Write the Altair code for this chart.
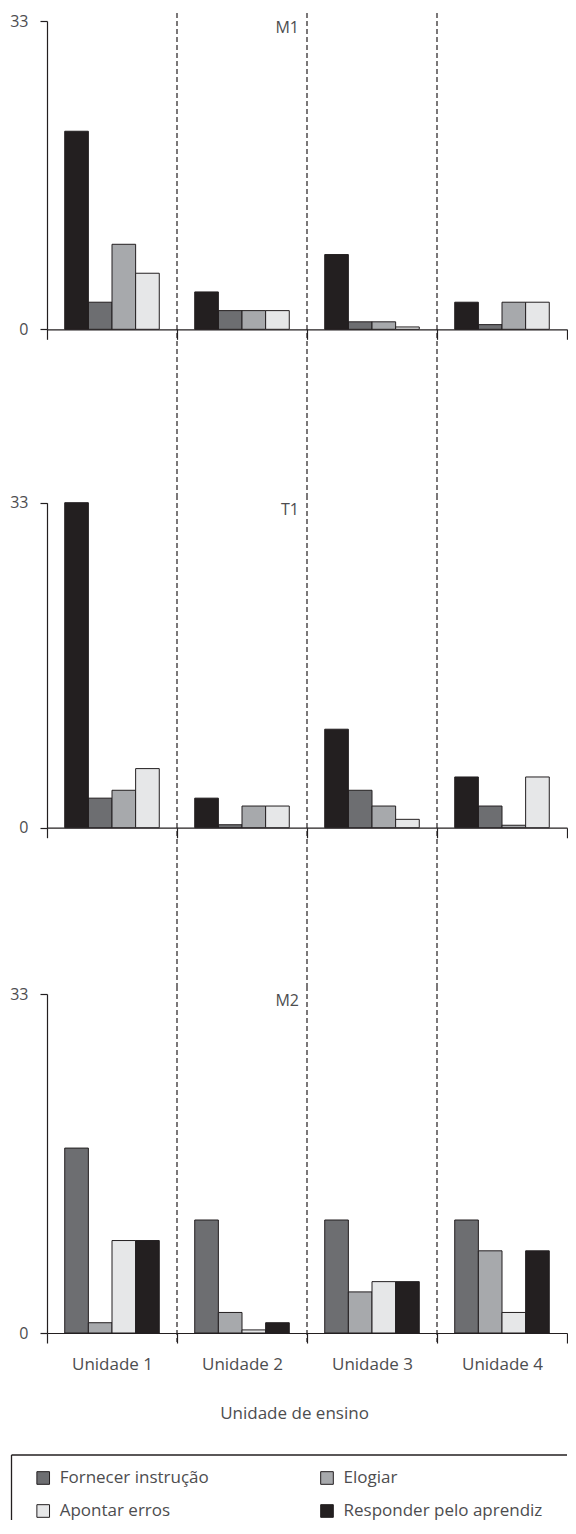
import altair as alt
import pandas as pd

units = ["Unidade 1", "Unidade 2", "Unidade 3", "Unidade 4"]
categories = ["Fornecer instrução", "Elogiar", "Apontar erros", "Responder pelo aprendiz"]
cat_colors = ["#6d6e71", "#a7a9ac", "#e6e7e8", "#231f20"]

# M1 values per unit
m1_fornecer = [2.9, 2, 0.8, 0.5]
m1_elogiar = [9.1, 2, 0.8, 2.9]
m1_apontar = [6, 2, 0.25, 2.9]
m1_responder = [21.2, 4, 8, 2.9]

# T1 values per unit
t1_fornecer = [3, 0.3, 3.8, 2.2]
t1_elogiar = [3.8, 2.2, 2.2, 0.25]
t1_apontar = [6, 2.2, 0.85, 5.15]
t1_responder = [33, 3, 10, 5.15]

# M2 values per unit
m2_fornecer = [18, 11, 11, 11]
m2_elogiar = [1, 2, 4, 8]
m2_apontar = [9, 0.3, 5, 2]
m2_responder = [9, 1, 5, 8]

order_m1 = ["Responder pelo aprendiz", "Fornecer instrução", "Elogiar", "Apontar erros"]
order_m2 = ["Fornecer instrução", "Elogiar", "Apontar erros", "Responder pelo aprendiz"]
y_ticks = [0, 33]

series = {
    "M1": [m1_fornecer, m1_elogiar, m1_apontar, m1_responder],
    "T1": [t1_fornecer, t1_elogiar, t1_apontar, t1_responder],
    "M2": [m2_fornecer, m2_elogiar, m2_apontar, m2_responder],
}

rows = []
for pname, lists in series.items():
    for cat, vals in zip(categories, lists):
        for u, v in zip(units, vals):
            rows.append({"panel": pname, "unit": u, "category": cat, "value": v})
df = pd.DataFrame(rows)

TEXT = "#4d4d4f"
INK = "#231f20"
W = 520

slots = {
    "M1": dict(h=482, top=8, zero=316.3, rule_end=482, labels=False, order=order_m1),
    "T1": dict(h=491, top=7.7, zero=332.7, rule_end=491, labels=False, order=order_m1),
    "M2": dict(h=469, top=8, zero=347, rule_end=356, labels=True, order=order_m2),
}
LEG_H = 65


def x_enc(cfg, band_pos=None):
    axis_kw = dict(tickBand="extent", tickSize=10, tickColor=INK, domainColor=INK,
                   domainWidth=1.2, tickWidth=1.2, offset=cfg["zero"] - cfg["h"],
                   labelAngle=0, grid=False)
    if cfg["labels"]:
        axis_kw.update(title="Unidade de ensino", labels=True, labelFontSize=17,
                       labelColor=TEXT, labelPadding=13, titleFontSize=17,
                       titleColor=TEXT, titleFontWeight="normal", titleX=247,
                       titleY=72, titleBaseline="top", titleAlign="center")
    else:
        axis_kw.update(title=None, labels=False)
    kw = dict(sort=units, scale=alt.Scale(domain=units, paddingInner=0, paddingOuter=0),
              axis=alt.Axis(**axis_kw))
    if band_pos is not None:
        kw["bandPosition"] = band_pos
    return alt.X("unit:N", **kw)


def y_enc(cfg):
    return alt.Y("value:Q",
                 scale=alt.Scale(domain=[0, 33], range=[cfg["zero"], cfg["top"]], nice=False),
                 axis=alt.Axis(values=y_ticks, title=None, tickSize=7, labelPadding=12,
                               labelFontSize=16, labelColor=TEXT, domainColor=INK,
                               tickColor=INK, grid=False, domainWidth=1.2, tickWidth=1.2))


def panel(name):
    cfg = slots[name]
    d = df[df.panel == name]
    rules = alt.Chart(pd.DataFrame({"unit": units[1:]})).mark_rule(
        color=INK, strokeWidth=1.2, strokeDash=[5, 3]
    ).encode(x=x_enc(cfg, 0), y=alt.value(0), y2=alt.value(cfg["rule_end"]))
    bars = alt.Chart(d).mark_bar(stroke=INK, strokeWidth=1).encode(
        x=x_enc(cfg),
        xOffset=alt.XOffset("category:N", sort=cfg["order"],
                            scale=alt.Scale(domain=cfg["order"], paddingInner=0, paddingOuter=0.75)),
        y=y_enc(cfg),
        fill=alt.Fill("category:N", scale=alt.Scale(domain=categories, range=cat_colors), legend=None),
    )
    label = alt.Chart(pd.DataFrame({"unit": ["Unidade 3"], "label": [name], "value": [33]})).mark_text(
        align="right", baseline="alphabetic", dx=-8, dy=12.3, fontSize=16, color=TEXT
    ).encode(x=x_enc(cfg, 0), y=y_enc(cfg), text="label:N")
    return alt.layer(rules, bars, label).properties(width=W, height=cfg["h"])


leg_df = pd.DataFrame({"category": categories, "col": [0, 1, 0, 1], "row": [0, 0, 1, 1]})
lx = alt.X("col:Q", scale=alt.Scale(domain=[0, 1], range=[-3.8, 280]), axis=None)
ly = alt.Y("row:Q", scale=alt.Scale(domain=[0, 1], range=[23, 56]), axis=None)
frame = alt.Chart(pd.DataFrame({"k": [0]}))
top_line = frame.mark_rule(color=INK, strokeWidth=1.3).encode(
    x=alt.value(-35.5), x2=alt.value(W), y=alt.value(0))
left_line = frame.mark_rule(color=INK, strokeWidth=1.3).encode(
    x=alt.value(-35.5), y=alt.value(0), y2=alt.value(LEG_H))
squares = alt.Chart(leg_df).mark_square(size=160, stroke=INK, strokeWidth=1, opacity=1).encode(
    x=lx, y=ly,
    fill=alt.Fill("category:N", scale=alt.Scale(domain=categories, range=cat_colors), legend=None),
)
texts = alt.Chart(leg_df).mark_text(align="left", baseline="middle", dx=16.5, fontSize=17, color=TEXT).encode(
    x=lx, y=ly, text="category:N"
)
legend = alt.layer(top_line, left_line, squares, texts).properties(width=W, height=LEG_H)

chart = alt.vconcat(panel("M1"), panel("T1"), panel("M2"), legend, spacing=0, bounds="flush").resolve_scale(
    x="independent", y="independent", xOffset="independent", fill="independent"
).properties(
    padding={"left": 1, "top": 4, "right": 0, "bottom": 0}
).configure(font="Open Sans").configure_view(stroke=None)

chart.save("out.html", embed_options={"renderer": "svg", "actions": False})
